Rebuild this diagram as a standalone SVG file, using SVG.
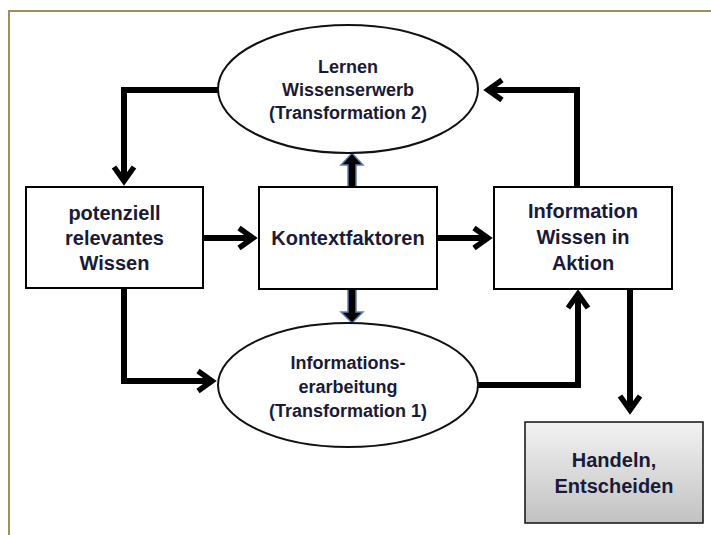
<svg xmlns="http://www.w3.org/2000/svg" width="711" height="535" viewBox="0 0 711 535">
  <style>
    .box { fill: #ffffff; stroke: #000000; stroke-width: 2; }
    .oval { fill: #ffffff; stroke: #111111; stroke-width: 2; }
    .lbl { font-family: "Liberation Sans", Arial, sans-serif; font-weight: bold; fill: #1a1a38; text-anchor: middle; }
    .big { font-size: 20px; }
    .small { font-size: 18px; }
    .conn { fill: none; stroke: #000000; stroke-width: 6; stroke-linejoin: miter; }
    .block { fill: #000000; stroke: #5b7fb3; stroke-width: 1.5; stroke-linejoin: miter; }
  </style>
  <defs>
    <marker id="chev" markerUnits="userSpaceOnUse" markerWidth="30" markerHeight="30" viewBox="-20 -15 30 30" refX="0" refY="0" orient="auto" overflow="visible">
      <path d="M-14,-10 L0,0 L-14,10" fill="none" stroke="#000000" stroke-width="5.5" stroke-linejoin="miter" stroke-miterlimit="10"/>
    </marker>
    <linearGradient id="grayFill" x1="0" y1="0" x2="0" y2="1">
      <stop offset="0" stop-color="#f2f2f2"/>
      <stop offset="1" stop-color="#c2c2c2"/>
    </linearGradient>
  </defs>

  <rect width="711" height="535" fill="#ffffff"/>
  <!-- page frame -->
  <path d="M9,535 L9,11 L711,11" fill="none" stroke="#9d9163" stroke-width="2"/>

  <g id="connectors">
    <path class="conn" d="M218,90 L124,90 L124,181" marker-end="url(#chev)"/>
    <path class="conn" d="M577,187 L577,90 L488,90" marker-end="url(#chev)"/>
    <path class="conn" d="M124,288 L124,381 L212,381" marker-end="url(#chev)"/>
    <path class="conn" d="M478,385 L578,385 L578,294" marker-end="url(#chev)"/>
    <path class="conn" d="M630,289 L630,410" marker-end="url(#chev)"/>
    <path class="conn" d="M203,238 L253,238" marker-end="url(#chev)"/>
    <path class="conn" d="M437,238 L488,238" marker-end="url(#chev)"/>
    <!-- block arrows from Kontextfaktoren -->
    <polygon class="block" points="348,188 348,165 341,165 352,153 363,165 356,165 356,188"/>
    <polygon class="block" points="348,288 348,312 341,312 352,323 363,312 356,312 356,288"/>
  </g>

  <g id="lernen">
    <ellipse class="oval" cx="348" cy="89" rx="130" ry="64"/>
    <text class="lbl small" x="348" y="73">Lernen</text>
    <text class="lbl small" x="348" y="96">Wissenserwerb</text>
    <text class="lbl small" x="348" y="119">(Transformation 2)</text>
  </g>

  <g id="informationsverarbeitung">
    <ellipse class="oval" cx="348" cy="385" rx="130" ry="62"/>
    <text class="lbl small" x="348" y="369">Informations-</text>
    <text class="lbl small" x="348" y="393">erarbeitung</text>
    <text class="lbl small" x="348" y="417">(Transformation 1)</text>
  </g>

  <g id="wissen">
    <rect class="box" x="26" y="187" width="177" height="101"/>
    <text class="lbl big" x="114.5" y="220">potenziell</text>
    <text class="lbl big" x="114.5" y="245">relevantes</text>
    <text class="lbl big" x="114.5" y="270">Wissen</text>
  </g>

  <g id="kontext">
    <rect class="box" x="259" y="187" width="178" height="102"/>
    <text class="lbl big" x="348" y="245">Kontextfaktoren</text>
  </g>

  <g id="aktion">
    <rect class="box" x="494" y="187" width="178" height="102"/>
    <text class="lbl big" x="583" y="218">Information</text>
    <text class="lbl big" x="583" y="244">Wissen in</text>
    <text class="lbl big" x="583" y="270">Aktion</text>
  </g>

  <g id="handeln">
    <rect x="525" y="422" width="178" height="101" fill="url(#grayFill)" stroke="#111111" stroke-width="1.5"/>
    <text class="lbl big" x="614" y="467">Handeln,</text>
    <text class="lbl big" x="614" y="493">Entscheiden</text>
  </g>
</svg>
